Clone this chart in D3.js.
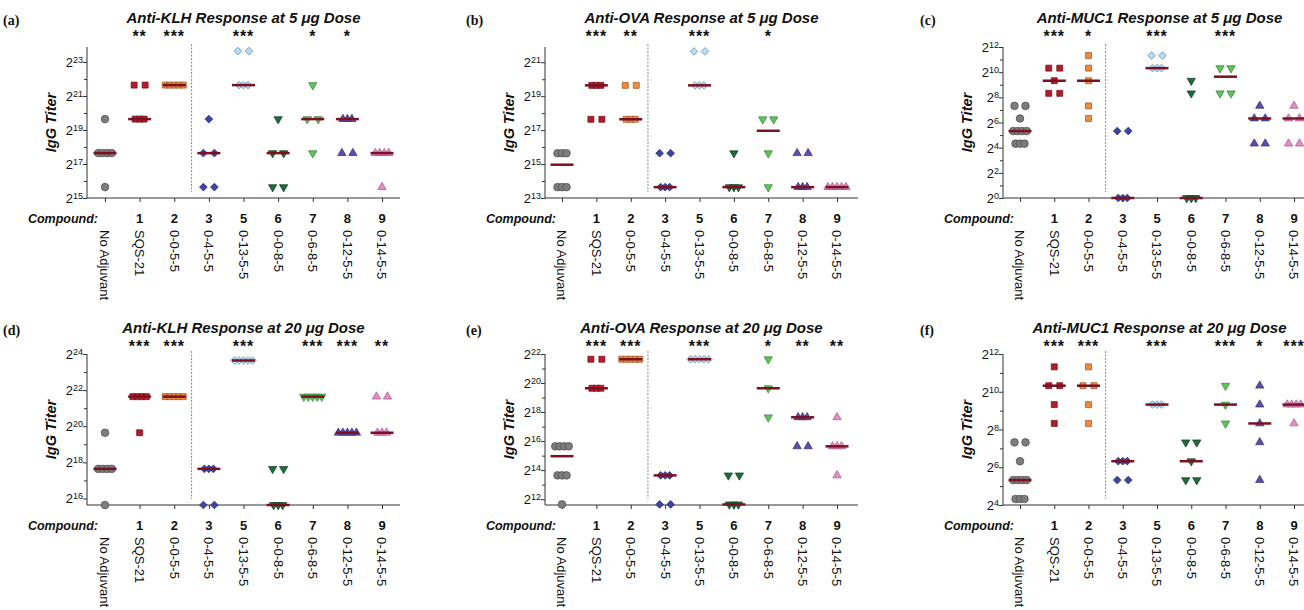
<!DOCTYPE html>
<html>
<head>
<meta charset="utf-8">
<script src="https://cdn.jsdelivr.net/npm/d3@7"></script>
<style>
body{margin:0;background:#fff;}
text{font-family:"Liberation Sans",Arial,Helvetica,sans-serif;fill:#111;}
</style>
</head>
<body>
<svg id="chart" width="1304" height="610"></svg>
<script>
// groups on the x axis (adjuvant names) and compound numbers above them
var groups = ["No Adjuvant","SQS-21","0-0-5-5","0-4-5-5","0-13-5-5","0-0-8-5","0-6-8-5","0-12-5-5","0-14-5-5"];
var compoundNums = ["","1","2","3","5","6","7","8","9"];

// log2 of IgG titer for every mouse, one list per group
var klh5 = [[19.64,17.64,17.64,17.64,17.64,15.64],[21.64,21.64,19.64,19.64,19.64],[21.64,21.64,21.64,21.64,21.64],
  [19.64,17.64,17.64,15.64,15.64],[23.64,23.64,21.64,21.64,21.64],[19.64,17.64,17.64,15.64,15.64],
  [21.64,19.64,19.64,17.64],[19.64,19.64,19.64,17.64,17.64],[17.64,17.64,17.64,17.64,15.64]];
var ova5 = [[15.64,15.64,15.64,13.64,13.64,13.64],[19.64,19.64,19.64,17.64,17.64],[19.64,19.64,17.64,17.64,17.64],
  [15.64,15.64,13.64,13.64,13.64],[21.64,21.64,19.64,19.64,19.64],[15.64,13.64,13.64,13.64],
  [17.64,17.64,15.64,13.64],[15.64,15.64,13.64,13.64,13.64],[13.64,13.64,13.64,13.64,13.64]];
var muc5 = [[7.32,7.32,6.32,5.32,5.32,5.32,5.32,4.32,4.32,4.32],[10.32,10.32,9.32,8.32,8.32],[11.32,10.32,9.32,7.32,6.32],
  [5.32,5.32,0,0,0],[11.32,11.32,10.32,10.32,10.32],[9.32,8.32,0,0,0],
  [10.32,10.32,8.32,8.32],[7.32,6.32,6.32,4.32,4.32],[7.32,6.32,6.32,4.32,4.32]];
var klh20 = [[19.64,17.64,17.64,17.64,17.64,15.64],[21.64,21.64,21.64,21.64,19.64],[21.64,21.64,21.64,21.64,21.64],
  [17.64,17.64,17.64,15.64,15.64],[23.64,23.64,23.64,23.64,23.64],[17.64,17.64,15.64,15.64,15.64],
  [21.64,21.64,21.64,21.64,21.64],[19.64,19.64,19.64,19.64,19.64],[21.64,21.64,19.64,19.64,19.64]];
var ova20 = [[15.64,15.64,15.64,15.64,13.64,13.64,13.64,11.64],[21.64,21.64,19.64,19.64,19.64],[21.64,21.64,21.64,21.64,21.64],
  [13.64,13.64,13.64,11.64,11.64],[21.64,21.64,21.64,21.64,21.64],[13.64,13.64,11.64,11.64,11.64],
  [21.64,19.64,17.64],[17.64,17.64,17.64,15.64,15.64],[17.64,15.64,15.64,15.64,13.64]];
var muc20 = [[7.32,7.32,6.32,5.32,5.32,5.32,5.32,4.32,4.32,4.32],[11.32,10.32,10.32,9.32,8.32],[11.32,10.32,10.32,9.32,8.32],
  [6.32,6.32,6.32,5.32,5.32],[9.32,9.32,9.32],[7.32,7.32,6.32,5.32,5.32],
  [10.32,9.32,8.32],[10.32,9.32,8.32,7.32,5.32],[9.32,9.32,9.32,9.32,8.32]];

// significance marks over each group
var starsKlh5 = ["","**","***","","***","","*","*",""];
var starsOva5 = ["","***","**","","***","","*","",""];
var starsMuc5 = ["","***","*","","***","","***","",""];
var starsKlh20 = ["","***","***","","***","","***","***","**"];
var starsOva20 = ["","***","***","","***","","*","**","**"];
var starsMuc20 = ["","***","***","","***","","***","*","***"];

// y tick exponents
var ticksKlh5 = [15,17,19,21,23], ticksOva5 = [13,15,17,19,21], ticksMuc5 = [0,2,4,6,8,10,12];
var ticksKlh20 = [16,18,20,22,24], ticksOva20 = [12,14,16,18,20,22], ticksMuc20 = [4,6,8,10,12];

var fills   = ["#7d7d7d","#b21d2c","#f08a3c","#3b45a8","#b5dcf2","#1f6b3b","#5cc65a","#5a4eb0","#ea8ac6"];
var strokes = ["#4a4a4a","#6e1019","#9c5522","#242a6a","#6c8ea6","#123f22","#367a35","#362e6c","#9a5a82"];
var shapes  = ["circle","square","square","diamond","diamond","down","down","up","up"];

var panels = [
  {tag:"(a)",title:"Anti-KLH Response at 5 \u03bcg Dose",data:klh5,stars:starsKlh5,major:ticksKlh5,domain:[15,23.88],col:0,row:0},
  {tag:"(b)",title:"Anti-OVA Response at 5 \u03bcg Dose",data:ova5,stars:starsOva5,major:ticksOva5,domain:[13,21.9],col:1,row:0},
  {tag:"(c)",title:"Anti-MUC1 Response at 5 \u03bcg Dose",data:muc5,stars:starsMuc5,major:ticksMuc5,domain:[0,12],col:2,row:0},
  {tag:"(d)",title:"Anti-KLH Response at 20 \u03bcg Dose",data:klh20,stars:starsKlh20,major:ticksKlh20,domain:[15.64,24],col:0,row:1},
  {tag:"(e)",title:"Anti-OVA Response at 20 \u03bcg Dose",data:ova20,stars:starsOva20,major:ticksOva20,domain:[11.6,22],col:1,row:1},
  {tag:"(f)",title:"Anti-MUC1 Response at 20 \u03bcg Dose",data:muc20,stars:starsMuc20,major:ticksMuc20,domain:[4,12],col:2,row:1}
];

var axisX = [87, 545, 1003], tagX = [3, 466, 920];
var catRange = [[105,382],[562,837],[1020,1294]];
var rowY = [0, 310], plotTop = [47, 354], plotBottom = [198, 505];

var svg = d3.select('#chart');

function symbolPath(shape){
  if (shape == "circle") return d3.symbol().type(d3.symbolCircle).size(46)();
  if (shape == "square") return d3.symbol().type(d3.symbolSquare).size(36)();
  if (shape == "diamond") return d3.symbol().type(d3.symbolSquare).size(30)();
  return d3.symbol().type(d3.symbolTriangle).size(30)();
}
function symbolRotate(shape){
  if (shape == "diamond") return 45;
  if (shape == "down") return 180;
  return 0;
}
// side by side placement of equal values
function offsets(k){
  if (k < 2) return [0];
  var s = k == 2 ? 11 : 4.5;
  return d3.range(k).map(function(i){ return (i-(k-1)/2)*s; });
}

panels.forEach(function(p){
  var ax = axisX[p.col], top = plotTop[p.row], bottom = plotBottom[p.row], ry = rowY[p.row];
  var xEnd = ax + 313;
  var x = d3.scalePoint().domain(groups).range(catRange[p.col]);
  var y = d3.scaleLinear().domain(p.domain).range([bottom, top]);
  var g = svg.append('g');

  // panel tag and title
  g.append('text').attr('x', tagX[p.col]).attr('y', ry+25)
    .style('font-family','"Liberation Serif","Times New Roman",serif').style('font-weight','bold').style('font-size','14px')
    .text(p.tag);
  g.append('text').attr('x', (ax+xEnd)/2).attr('y', ry+23).attr('text-anchor','middle')
    .style('font-weight','bold').style('font-style','italic').style('font-size','15px')
    .text(p.title);

  // y axis with major and minor ticks
  var minor = d3.range(Math.ceil(p.domain[0]), Math.floor(p.domain[1])+1).filter(function(e){ return p.major.indexOf(e) < 0; });
  var yMajor = g.append('g').attr('transform','translate('+ax+',0)')
    .call(d3.axisLeft(y).tickValues(p.major).tickSize(4).tickFormat(''));
  g.append('g').attr('transform','translate('+ax+',0)')
    .call(d3.axisLeft(y).tickValues(minor).tickSize(3).tickFormat(''))
    .select('.domain').remove();
  yMajor.select('.domain').remove();
  yMajor.selectAll('.tick').each(function(e){
    var t = d3.select(this).append('text').attr('x',-4).attr('y',4.5)
      .attr('text-anchor','end').style('font-size','13px').style('fill','#111');
    t.append('tspan').text('2');
    t.append('tspan').attr('dy',-4).style('font-size','9px').text(e);
  });
  g.selectAll('.tick line').attr('stroke','#333');

  g.append('line').attr('x1',ax).attr('x2',ax).attr('y1',top).attr('y2',bottom)
    .attr('stroke','#333').attr('stroke-width',1);

  // x axis
  var xa = g.append('g').attr('transform','translate(0,'+bottom+')')
    .call(d3.axisBottom(x).tickSize(4).tickFormat(''));
  xa.select('.domain').remove();
  xa.selectAll('.tick line').attr('stroke','#333');
  g.append('line').attr('x1',ax).attr('x2',xEnd).attr('y1',bottom).attr('y2',bottom)
    .attr('stroke','#333').attr('stroke-width',1);

  // y title
  g.append('text').attr('transform','translate('+(ax-31)+','+((top+bottom)/2)+') rotate(-90)')
    .attr('text-anchor','middle')
    .style('font-weight','bold').style('font-style','italic').style('font-size','14.5px')
    .text('IgG Titer');

  // compound row and names
  g.append('text').attr('x', ax+11).attr('y', bottom+25).attr('text-anchor','end')
    .style('font-weight','bold').style('font-style','italic').style('font-size','12.5px')
    .text('Compound:');
  groups.forEach(function(name, i){
    g.append('text').attr('x', x(name)).attr('y', bottom+25).attr('text-anchor','middle')
      .style('font-weight','bold').style('font-size','13px').text(compoundNums[i]);
    g.append('text').attr('transform','translate('+x(name)+','+(bottom+32)+') rotate(90)')
      .attr('dy','0.35em').style('font-size','13px').text(name);
    if (p.stars[i]) {
      g.append('text').attr('x', x(name)).attr('y', ry+42).attr('text-anchor','middle')
        .style('font-weight','bold').style('font-size','16px').style('letter-spacing','1px')
        .text(p.stars[i]);
    }
  });

  // dashed separator between controls and new compounds
  var sepX = (x(groups[2]) + x(groups[3]))/2;
  g.append('line').attr('x1',sepX).attr('x2',sepX).attr('y1',top-3).attr('y2',bottom-6)
    .attr('stroke','#888').attr('stroke-width',1).attr('stroke-dasharray','2,1.5');

  // points
  p.data.forEach(function(vals, i){
    var cx = x(groups[i]);
    var byVal = d3.group(vals, function(v){ return v; });
    byVal.forEach(function(list, v){
      offsets(list.length).forEach(function(dx){
        g.append('path').attr('d', symbolPath(shapes[i]))
          .attr('transform','translate('+(cx+dx)+','+y(v)+') rotate('+symbolRotate(shapes[i])+')')
          .attr('fill', fills[i]).attr('stroke', strokes[i]).attr('stroke-width',0.7);
      });
    });
    // median of titers
    var med = Math.log2(d3.median(vals.map(function(v){ return Math.pow(2,v); })));
    g.append('line').attr('x1',cx-11.5).attr('x2',cx+11.5).attr('y1',y(med)).attr('y2',y(med))
      .attr('stroke','#7b1020').attr('stroke-width',2.5);
  });
});
</script>
</body>
</html>
